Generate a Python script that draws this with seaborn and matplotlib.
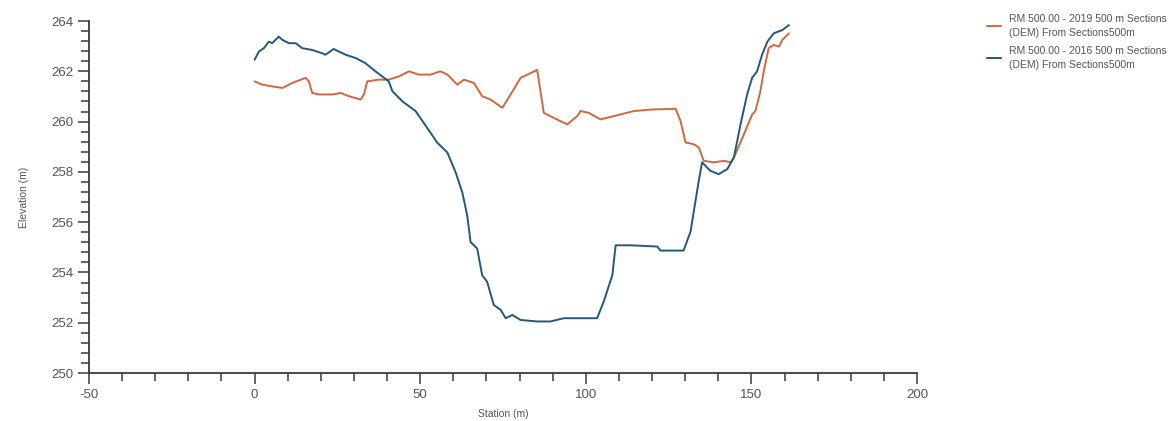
import matplotlib
matplotlib.use("Agg")
import matplotlib.pyplot as plt
from matplotlib.ticker import MultipleLocator
import pandas as pd
import seaborn as sns

# Cross-section profile, 2016 survey
station_2016 = [0.0, 1.3, 2.8, 4.3, 5.3, 7.3, 8.4, 10.4, 12.4, 14.4, 17.4, 20.4, 21.4,
                23.9, 25.4, 27.5, 30.5, 33.4, 36.5, 38.5, 40.5, 41.6, 44.6, 48.6, 53.1,
                55.1, 58.2, 60.7, 62.7, 64.2, 65.2, 67.2, 68.7, 70.2, 72.2, 74.3, 75.8,
                77.8, 80.3, 85.3, 89.3, 93.4, 98.4, 103.4, 105.4, 108.0, 109.0, 113.5,
                121.6, 122.5, 129.5, 131.6, 134.1, 135.1, 137.6, 140.1, 142.7, 144.7,
                146.7, 148.7, 150.2, 151.7, 153.2, 154.8, 156.7, 159.3, 161.3]
elev_2016 = [262.46, 262.79, 262.92, 263.18, 263.12, 263.38, 263.25, 263.12, 263.12,
             262.92, 262.85, 262.72, 262.66, 262.89, 262.79, 262.66, 262.53, 262.33,
             262.00, 261.80, 261.60, 261.21, 260.81, 260.42, 259.56, 259.17, 258.77,
             257.98, 257.19, 256.26, 255.21, 254.95, 253.89, 253.63, 252.71, 252.51,
             252.18, 252.31, 252.11, 252.05, 252.05, 252.18, 252.18, 252.18, 252.84,
             253.89, 255.08, 255.08, 255.03, 254.87, 254.87, 255.62, 257.65, 258.38,
             258.04, 257.91, 258.11, 258.57, 259.89, 261.08, 261.74, 262.00, 262.66,
             263.18, 263.51, 263.64, 263.84]

# Cross-section profile, 2019 survey
station_2019 = [0.0, 2.3, 5.3, 8.4, 11.4, 15.4, 16.4, 17.4, 19.4, 23.5, 26.0, 28.5, 32.0,
                33.0, 34.0, 37.5, 40.5, 43.6, 46.6, 49.6, 53.1, 56.1, 58.2, 61.2, 63.2,
                66.2, 68.7, 71.2, 74.8, 77.3, 80.3, 83.3, 85.3, 86.3, 87.3, 90.3, 94.4,
                97.4, 98.4, 100.9, 104.4, 108.5, 114.5, 119.5, 127.1, 128.6, 130.1, 132.6,
                134.1, 135.6, 138.6, 141.7, 143.7, 144.7, 147.7, 150.2, 151.2, 152.7,
                153.7, 155.2, 156.7, 158.3, 159.3, 161.3]
elev_2019 = [261.60, 261.47, 261.40, 261.34, 261.54, 261.74, 261.60, 261.14, 261.08,
             261.08, 261.14, 261.01, 260.88, 261.08, 261.60, 261.67, 261.67, 261.80,
             262.00, 261.87, 261.87, 262.00, 261.87, 261.47, 261.67, 261.54, 261.01,
             260.88, 260.55, 261.08, 261.74, 261.93, 262.06, 261.21, 260.35, 260.15,
             259.89, 260.22, 260.42, 260.35, 260.09, 260.22, 260.42, 260.48, 260.51,
             260.02, 259.17, 259.10, 258.97, 258.44, 258.38, 258.44, 258.38, 258.57,
             259.49, 260.28, 260.42, 261.21, 262.00, 262.92, 263.05, 262.98, 263.25,
             263.51]

label_2019 = "RM 500.00 - 2019 500 m Sections\n(DEM) From Sections500m"
label_2016 = "RM 500.00 - 2016 500 m Sections\n(DEM) From Sections500m"

df = pd.concat([
    pd.DataFrame({"Station": station_2019, "Elevation": elev_2019, "Survey": label_2019}),
    pd.DataFrame({"Station": station_2016, "Elevation": elev_2016, "Survey": label_2016}),
], ignore_index=True)

sns.set_style("white")
plt.rcParams["font.family"] = ["Liberation Sans Narrow", "Liberation Sans", "DejaVu Sans"]
plt.rcParams["axes.unicode_minus"] = False

fig = plt.figure(figsize=(11.69, 4.21), dpi=100)
ax = fig.add_axes([0.0761, 0.114, 0.7084, 0.836])

sns.lineplot(data=df, x="Station", y="Elevation", hue="Survey",
             hue_order=[label_2019, label_2016],
             palette={label_2019: "#d2673f", label_2016: "#22587c"},
             estimator=None, sort=False, linewidth=1.4, ax=ax, legend=True)

ax.set_xlim(-50, 200)
ax.set_ylim(250, 264)
ax.xaxis.set_major_locator(MultipleLocator(50))
ax.xaxis.set_minor_locator(MultipleLocator(10))
ax.yaxis.set_major_locator(MultipleLocator(2))
ax.yaxis.set_minor_locator(MultipleLocator(0.4))

for side in ("top", "right"):
    ax.spines[side].set_visible(False)
for side in ("left", "bottom"):
    ax.spines[side].set_color("#3a3a3a")
    ax.spines[side].set_linewidth(1.3)

ax.tick_params(which="major", direction="out", length=8, width=1.1, color="#3a3a3a",
               labelsize=9.5, labelcolor="#555555", left=True, bottom=True)
ax.tick_params(which="minor", direction="out", length=6, width=1.1, color="#3a3a3a",
               left=True, bottom=True)

ax.set_xlabel("Station (m)", fontsize=7.5, color="#555555", labelpad=6)
ax.set_ylabel("Elevation (m)", fontsize=7.5, color="#555555", labelpad=16)

handles, labels = ax.get_legend_handles_labels()
ax.get_legend().remove()
fig.legend(handles, labels, loc="upper left", bbox_to_anchor=(0.836, 0.99),
           frameon=False, fontsize=7.5, handlelength=1.4, handletextpad=0.7,
           labelspacing=0.8, labelcolor="#555555")
for txt in fig.legends[0].get_texts():
    txt.set_linespacing(1.5)

fig.savefig("out.png", dpi=100, facecolor="white")
